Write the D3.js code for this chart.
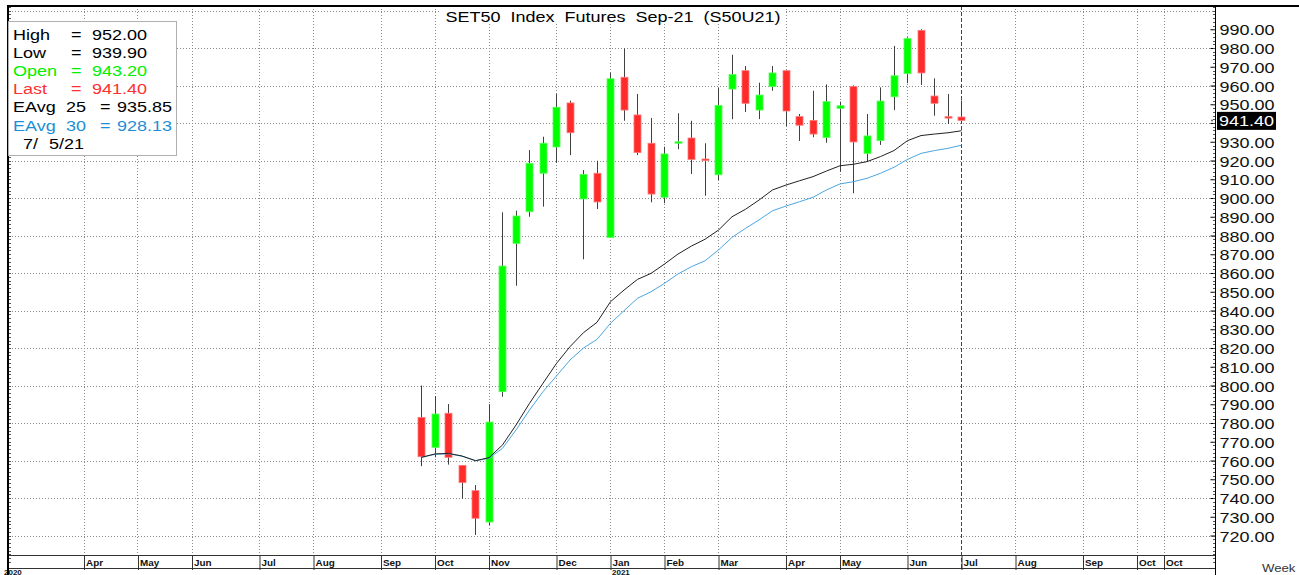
<!DOCTYPE html>
<html><head><meta charset="utf-8">
<script src="https://cdn.jsdelivr.net/npm/d3@7/dist/d3.min.js"></script>
<style>
html,body{margin:0;padding:0;background:#fff;overflow:hidden}
svg{display:block}
text{font-family:"Liberation Sans",Arial,sans-serif}
</style></head>
<body>
<svg id="c" width="1299" height="575"></svg>
<script>
// ---------------- data ----------------
const title = "SET50  Index  Futures  Sep-21  (S50U21)";
const weeks = ["2020-09-28","2020-10-05","2020-10-12","2020-10-19","2020-10-26","2020-11-02","2020-11-09","2020-11-16","2020-11-23","2020-11-30",
"2020-12-07","2020-12-14","2020-12-21","2020-12-28","2021-01-04","2021-01-11","2021-01-18","2021-01-25","2021-02-01","2021-02-08",
"2021-02-15","2021-02-22","2021-03-01","2021-03-08","2021-03-15","2021-03-22","2021-03-29","2021-04-05","2021-04-12","2021-04-19",
"2021-04-26","2021-05-03","2021-05-10","2021-05-17","2021-05-24","2021-05-31","2021-06-07","2021-06-14","2021-06-21","2021-06-28","2021-07-05"];
const open  = [783.0,767.0,785.2,757.4,743.9,727.2,796.7,875.8,892.7,913.2,927.2,950.7,899.5,913.2,879.0,964.4,944.3,929.2,900.4,929.2,932.0,920.8,912.4,958.1,967.9,946.9,959.4,967.9,943.4,941.4,932.2,947.8,959.4,923.8,930.6,954.0,966.3,989.4,954.4,943.4,943.2];
const high  = [800.0,794.4,790.1,757.6,746.9,790.1,892.4,893.2,925.6,932.7,955.5,951.9,914.9,919.9,966.8,979.8,955.5,942.7,927.4,945.2,941.2,929.2,958.7,976.4,970.4,961.5,970.4,968.0,944.8,957.2,960.6,951.4,960.1,944.8,959.0,981.1,985.7,990.0,963.8,955.5,952.0];
const low   = [757.0,761.7,757.8,739.6,720.3,725.6,794.0,853.2,890.0,895.4,918.8,922.9,867.3,894.1,879.0,941.2,922.9,897.7,897.2,926.0,912.8,901.2,909.6,942.0,945.9,942.1,957.2,938.4,930.4,932.4,929.5,914.0,902.5,919.4,928.3,946.9,961.2,960.3,943.9,939.5,939.9];
const close = [762.0,784.8,761.7,748.2,729.2,780.5,863.7,890.4,918.5,929.2,948.4,934.8,912.6,897.9,963.6,946.9,924.2,902.1,923.5,930.0,920.6,920.3,949.4,965.8,950.5,954.9,966.7,946.4,938.8,934.1,951.4,949.2,929.9,933.1,951.7,965.2,985.0,966.7,950.5,942.8,941.4];
const ema25 = [761.7,763.5,763.8,762.4,759.9,761.5,768.3,778.9,790.5,801.2,811.8,820.7,828.2,833.7,844.7,850.9,856.6,859.8,864.8,870.1,874.4,878.0,882.9,890.0,894.0,898.9,904.3,906.9,909.2,911.4,914.4,917.2,918.0,919.4,922.1,925.3,930.6,933.3,934.1,934.8,935.85];
const ema30 = [761.7,763.3,763.6,762.3,759.9,761.2,766.5,776.3,786.9,796.7,805.1,813.6,820.0,824.6,833.2,839.9,846.5,850.0,854.5,859.5,863.4,866.5,872.3,879.0,883.8,888.3,893.2,895.7,898.0,900.4,904.3,907.5,908.7,910.5,913.2,916.4,920.6,923.8,925.3,926.5,928.13];
const yTickValues = [720,730,740,750,760,770,780,790,800,810,820,830,840,850,860,870,880,890,900,910,920,930,940,950,960,970,980,990];
const yGridValues = [720,740,760,780,800,820,840,860,880,900,920,940,960,980,1000];
const monthTickDates  = ["2020-04-06","2020-05-04","2020-06-01","2020-07-06","2020-08-03","2020-09-07","2020-10-05","2020-11-02","2020-12-07","2021-01-04",
"2021-02-01","2021-03-01","2021-04-05","2021-05-03","2021-06-07","2021-07-05","2021-08-02","2021-09-06","2021-10-04","2021-10-18"];
const monthTickLabels = ["Apr","May","Jun","Jul","Aug","Sep","Oct","Nov","Dec","Jan","Feb","Mar","Apr","May","Jun","Jul","Aug","Sep","Oct","Oct"];
const yearLabels = ["2020","2021"];
const yearDates  = ["2020-02-26","2021-01-04"];
const legendRows = [
  {k:"High", v:"952.00", c:"#000"},
  {k:"Low",  v:"939.90", c:"#000"},
  {k:"Open", v:"943.20", c:"#00f000"},
  {k:"Last", v:"941.40", c:"#ff3030"}
];
const legendEma = [
  {k:"EAvg", n:"25", v:"935.85", c:"#000"},
  {k:"EAvg", n:"30", v:"928.13", c:"#1e8fd5"}
];
const legendDate = ["7/","5/21"];
const lastPrice = 941.40;

// ---------------- layout ----------------
const SX = 1.2; // horizontal text stretch of reference
const L = 9, R = 1215, T = 6, B = 555;
const parse = d3.utcParse("%Y-%m-%d");
const x = d3.scaleUtc().domain([parse("2020-11-02"), parse("2021-07-05")]).range([488.5, 961]);
const y = d3.scaleLinear().domain([720, 990]).range([535.5, 29.25]);
const svg = d3.select("#c");
function txt(g, px, py, s, size, fill, opts={}) {
  const t = g.append("text").attr("transform", `translate(${px},${py}) scale(${SX},1)`)
    .attr("font-size", size).attr("fill", fill).text(s);
  if (opts.anchor) t.attr("text-anchor", opts.anchor);
  if (opts.weight) t.attr("font-weight", opts.weight);
  t.attr("xml:space","preserve").style("white-space","pre");
  return t;
}
svg.append("rect").attr("width",1299).attr("height",575).attr("fill","#fff");

// grid
const grid = svg.append("g");
grid.selectAll("line.h").data(yGridValues).join("line")
  .attr("x1", L).attr("x2", R).attr("y1", d=>Math.round(y(d))+0.5).attr("y2", d=>Math.round(y(d))+0.5)
  .attr("stroke","#8a8a8a").attr("stroke-dasharray","1,2");
grid.selectAll("line.v").data(monthTickDates.filter(d=>d!=="2021-07-05")).join("line")
  .attr("x1", d=>Math.round(x(parse(d)))+0.5).attr("x2", d=>Math.round(x(parse(d)))+0.5)
  .attr("y1", T).attr("y2", B).attr("stroke","#8a8a8a").attr("stroke-dasharray","1,2");
// current date dashed line
svg.append("line").attr("x1", Math.round(x(parse("2021-07-05")))+0.5).attr("x2", Math.round(x(parse("2021-07-05")))+0.5)
  .attr("y1", T).attr("y2", 570).attr("stroke","#444").attr("stroke-dasharray","4,2");

// candles
const cw = 7;
const cg = svg.append("g");
const idx = d3.range(weeks.length);
cg.selectAll("line.w").data(idx).join("line")
  .attr("x1", i=>Math.round(x(parse(weeks[i])))+0.5).attr("x2", i=>Math.round(x(parse(weeks[i])))+0.5)
  .attr("y1", i=>y(high[i])).attr("y2", i=>y(low[i])).attr("stroke","#404040").attr("stroke-width",1);
cg.selectAll("rect").data(idx).join("rect")
  .attr("x", i=>Math.round(x(parse(weeks[i]))) - 3)
  .attr("y", i=>y(Math.max(open[i],close[i])))
  .attr("width", cw)
  .attr("height", i=>Math.max(1.5, Math.abs(y(open[i])-y(close[i]))))
  .attr("fill", i=>close[i]>=open[i] ? "#00ff00" : "#ff2b2b")
  .attr("stroke", i=>close[i]>=open[i] ? "#55ff55" : "#ff7a7a").attr("stroke-width",0.8);

// EMA lines
const line = (arr)=>d3.line().x((d,i)=>x(parse(weeks[i]))+0.5).y(d=>y(d))(arr);
svg.append("path").attr("d", line(ema30)).attr("fill","none").attr("stroke","#4aa6e0").attr("stroke-width",1);
svg.append("path").attr("d", line(ema25)).attr("fill","none").attr("stroke","#222").attr("stroke-width",1);

// right axis
const ay = svg.append("g").attr("transform", `translate(${R+0.5},0)`);
ay.call(d3.axisRight(y).tickValues(yTickValues).tickSizeInner(-5).tickSizeOuter(0)
  .tickFormat(d => Math.abs(d - lastPrice) < 6 ? "" : d3.format(".2f")(d)));
ay.select(".domain").remove();
ay.selectAll(".tick line").attr("stroke","#000");
ay.selectAll(".tick text").attr("x",null).attr("dy",null).attr("fill","#111")
  .attr("font-size",15).attr("font-family","Liberation Sans, Arial, sans-serif")
  .attr("transform",`translate(4,5.5) scale(${SX},1)`).attr("text-anchor","start");
const minor = d3.range(706, 1004, 2);
svg.append("g").selectAll("line").data(minor).join("line")
  .attr("x1", R-2).attr("x2", R).attr("y1", d=>Math.round(y(d))+0.5).attr("y2", d=>Math.round(y(d))+0.5)
  .attr("stroke","#555");
svg.append("g").selectAll("line").data(minor).join("line")
  .attr("x1", L).attr("x2", L+2).attr("y1", d=>Math.round(y(d))+0.5).attr("y2", d=>Math.round(y(d))+0.5)
  .attr("stroke","#555");
svg.append("line").attr("x1",R+0.5).attr("x2",R+0.5).attr("y1",T).attr("y2",575).attr("stroke","#000");

// last price tag
svg.append("rect").attr("x", R+2).attr("y", y(lastPrice)-8.5).attr("width", 59).attr("height", 18).attr("fill","#000");
txt(svg, R+4, y(lastPrice)+5.5, d3.format(".2f")(lastPrice), 15, "#fff");
svg.append("circle").attr("cx", R-3).attr("cy", y(lastPrice)).attr("r",1).attr("fill","#666");

// x axis strip
const ax = svg.append("g").attr("transform", `translate(0,${B})`);
ax.call(d3.axisBottom(x).tickValues(monthTickDates.map(parse)).tickSizeInner(15).tickSizeOuter(0)
  .tickFormat((d,i)=>monthTickLabels[i]));
ax.select(".domain").remove();
ax.selectAll(".tick line").attr("stroke","#333").attr("transform","translate(0.5,0)");
ax.selectAll(".tick text").attr("y",null).attr("dy",null).attr("fill","#111")
  .attr("font-size",9).attr("font-weight","bold").attr("font-family","Liberation Sans, Arial, sans-serif")
  .attr("text-anchor","start").attr("transform","translate(2,10.5) scale(1.1,1)");
svg.append("line").attr("x1",L).attr("x2",R).attr("y1",B+0.5).attr("y2",B+0.5).attr("stroke","#333");
svg.append("line").attr("x1",L).attr("x2",R).attr("y1",568.5).attr("y2",568.5).attr("stroke","#333");
yearLabels.forEach((s,i)=>{
  const px = i===0 ? 4 : Math.round(x(parse(yearDates[i])))+2;
  svg.append("text").attr("x",px).attr("y",574.5).attr("font-size",8).attr("font-weight","bold").attr("fill","#111").text(s);
});
txt(svg, 1262, 572, "Week", 11, "#333");

// frame
svg.append("line").attr("x1",8).attr("x2",1299).attr("y1",T).attr("y2",T).attr("stroke","#000").attr("stroke-width",2);
svg.append("line").attr("x1",8).attr("x2",8).attr("y1",T-1).attr("y2",575).attr("stroke","#000").attr("stroke-width",2);

// title
const tg = svg.append("g");
tg.append("rect").attr("x",440).attr("y",T+2).attr("width",346).attr("height",16).attr("fill","#fff");
txt(tg, 613, 22, title, 15, "#000", {anchor:"middle"});

// legend box
const lg = svg.append("g");
lg.append("rect").attr("x",8.5).attr("y",21.5).attr("width",168).attr("height",134).attr("fill","#fff").attr("stroke","#b0b0b0");
const rowY = i => 39.5 + i*18.2;
legendRows.forEach((r,i)=>{
  txt(lg, 13, rowY(i), r.k, 15, r.c);
  txt(lg, 71, rowY(i), "=", 15, r.c);
  txt(lg, 92, rowY(i), r.v, 15, r.c);
});
legendEma.forEach((r,j)=>{
  const i = j+4;
  txt(lg, 13, rowY(i), r.k, 15, r.c);
  txt(lg, 66, rowY(i), r.n, 15, r.c);
  txt(lg, 100, rowY(i), "=", 15, r.c);
  txt(lg, 117, rowY(i), r.v, 15, r.c);
});
txt(lg, 23, rowY(6), legendDate[0], 15, "#000");
txt(lg, 49, rowY(6), legendDate[1], 15, "#000");
</script>
</body></html>
